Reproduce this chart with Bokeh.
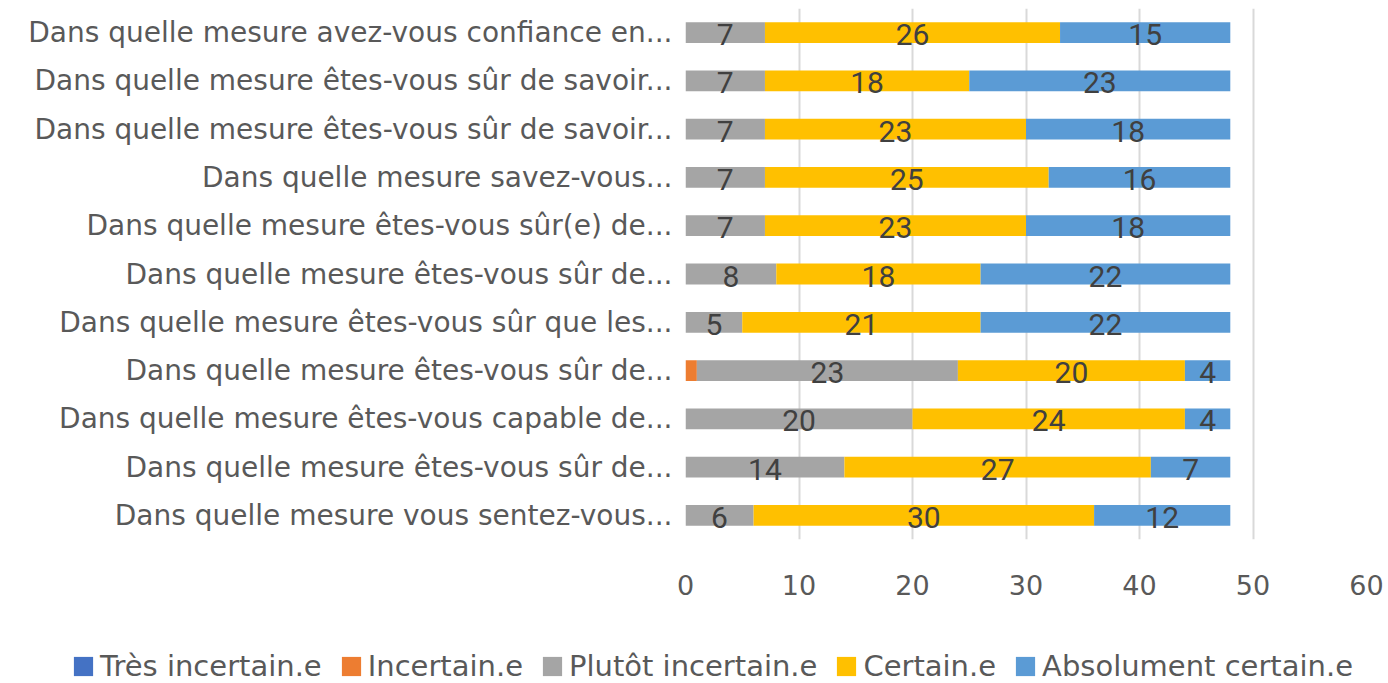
from bokeh.plotting import figure
from bokeh.models import Range1d, FixedTicker, Legend, LegendItem, ColumnDataSource
from bokeh.core.properties import value
from bokeh.embed import file_html
from bokeh.resources import INLINE

# ---- data (top to bottom as shown) ----
labels = [
    "Dans quelle mesure avez-vous confiance en...",
    "Dans quelle mesure êtes-vous sûr de savoir...",
    "Dans quelle mesure êtes-vous sûr de savoir...",
    "Dans quelle mesure savez-vous...",
    "Dans quelle mesure êtes-vous sûr(e) de...",
    "Dans quelle mesure êtes-vous sûr de...",
    "Dans quelle mesure êtes-vous sûr que les...",
    "Dans quelle mesure êtes-vous sûr de...",
    "Dans quelle mesure êtes-vous capable de...",
    "Dans quelle mesure êtes-vous sûr de...",
    "Dans quelle mesure vous sentez-vous...",
]
tres_incertain = [0, 0, 0, 0, 0, 0, 0, 0, 0, 0, 0]
incertain = [0, 0, 0, 0, 0, 0, 0, 1, 0, 0, 0]
plutot_incertain = [7, 7, 7, 7, 7, 8, 5, 23, 20, 14, 6]
certain = [26, 18, 23, 25, 23, 18, 21, 20, 24, 27, 30]
absolument = [15, 23, 18, 16, 18, 22, 22, 4, 4, 7, 12]
series_names = ["Très incertain.e", "Incertain.e", "Plutôt incertain.e", "Certain.e", "Absolument certain.e"]
x_ticks = [0, 10, 20, 30, 40, 50, 60]

colors = ["#4472C4", "#ED7D31", "#A5A5A5", "#FFC000", "#5B9BD5"]
fields = ["s0", "s1", "s2", "s3", "s4"]

n = len(labels)
ypos = [n - i for i in range(n)]  # first category at top

src = ColumnDataSource(dict(y=ypos, s0=tres_incertain, s1=incertain, s2=plutot_incertain,
                            s3=certain, s4=absolument))

FONT = "DejaVu Sans"
TXT = "#595959"

p = figure(width=1388, height=620, output_backend="svg", toolbar_location=None,
           y_range=Range1d(0.5, n + 0.5), x_range=Range1d(0, 60),
           min_border_left=685, min_border_right=22, min_border_top=8, min_border_bottom=81)
p.outline_line_color = None
p.background_fill_color = "white"

rs = p.hbar_stack(fields, y="y", height=0.43, color=colors, line_color=None, source=src)

# data labels
lab_x, lab_y, lab_t = [], [], []
all_series = [tres_incertain, incertain, plutot_incertain, certain, absolument]
for i in range(n):
    left = 0
    for j, s in enumerate(all_series):
        v = s[i]
        if j >= 2 and v > 0:
            lab_x.append(left + v / 2)
            lab_y.append(ypos[i])
            lab_t.append(str(v))
        left += v
p.text(x=lab_x, y=lab_y, text=lab_t, text_align="center", text_baseline="middle",
       text_font=value("Roboto"), text_font_size="30px", text_color="#404040",
       y_offset=2)

# axes
p.xaxis.ticker = FixedTicker(ticks=x_ticks)
p.xaxis.axis_line_color = None
p.xaxis.major_tick_line_color = None
p.xaxis.minor_tick_line_color = None
p.xaxis.major_tick_out = 0
p.xaxis.major_label_standoff = 35
p.xaxis.major_label_text_font = FONT
p.xaxis.major_label_text_font_size = "27px"
p.xaxis.major_label_text_color = TXT

p.yaxis.ticker = FixedTicker(ticks=ypos)
p.yaxis.axis_line_color = None
p.yaxis.major_tick_line_color = None
p.yaxis.minor_tick_line_color = None
p.yaxis.major_tick_out = 0
p.yaxis.major_label_standoff = 13
p.yaxis.major_label_text_font = FONT
p.yaxis.major_label_text_font_size = "28px"
p.yaxis.major_label_text_color = TXT
p.yaxis.major_label_overrides = {y: l for y, l in zip(ypos, labels)}

p.xgrid.grid_line_color = "#D9D9D9"
p.xgrid.grid_line_width = 2
p.xgrid.ticker = FixedTicker(ticks=x_ticks)
p.ygrid.grid_line_color = None

# legend strip (separate root so its frame spans the full width)
q = figure(width=1388, height=63, output_backend="svg", toolbar_location=None,
           x_range=Range1d(0, 1), y_range=Range1d(0, 1),
           min_border_left=0, min_border_right=0, min_border_top=0, min_border_bottom=0)
q.axis.visible = False
q.grid.visible = False
q.outline_line_color = None
proxy = ColumnDataSource(dict(y=[-5], right=[0]))
leg_rs = [q.hbar(y="y", right="right", height=0.5, color=c, line_color=None, source=proxy)
          for c in colors]
legend = Legend(items=[LegendItem(label=nm, renderers=[r]) for nm, r in zip(series_names, leg_rs)],
                orientation="horizontal", location=(71, 0),
                glyph_width=24, glyph_height=24, label_text_font=FONT,
                label_text_font_size="29px", label_text_color=TXT,
                spacing=17, padding=0, margin=0, label_standoff=5,
                background_fill_alpha=0, border_line_color=None)
q.add_layout(legend, "center")

open("out.html", "w").write(file_html([p, q], INLINE))
